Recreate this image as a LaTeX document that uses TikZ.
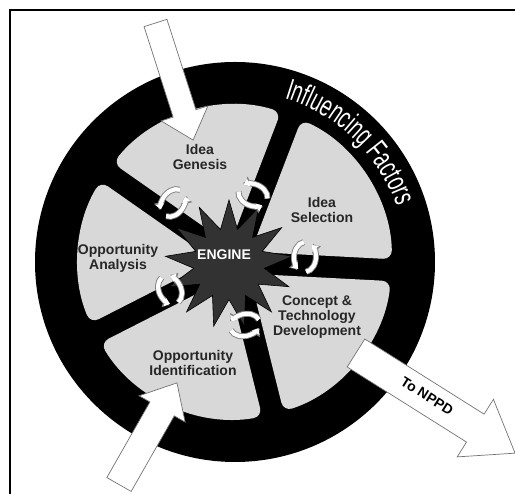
\documentclass[tikz,border=0pt]{standalone}
\usepackage{fontspec}
\setmainfont{Liberation Sans}
\newfontfamily\narrowfont[FakeStretch=0.64]{Liberation Sans}
\usetikzlibrary{arrows.meta,positioning,calc,shapes.geometric,decorations.text}
\definecolor{Wedge}{RGB}{216,216,216}
\definecolor{Ink}{RGB}{38,38,38}
\definecolor{Core}{RGB}{50,50,50}
\tikzset{
  stage/.style={font=\fontsize{14}{15}\selectfont\bfseries,text=Ink,align=center,inner sep=1pt},
  wedge/.style={fill=Wedge,rounded corners=9pt},
  fat/.style={fill=white,draw=black!55,line width=0.7pt,line join=miter},
  cycout/.style={line width=6pt,draw=black!50,-{Triangle[length=7pt,width=11pt]}},
  cycin/.style={line width=4.2pt,draw=white,-{Triangle[length=5.4pt,width=8.4pt]}},
}

\begin{document}
\begin{tikzpicture}[x=1pt,y=1pt]
  \useasboundingbox (0,0) rectangle (515,494);
  % frame, only top and left edges are in view
  \draw[line width=1.4pt] (10,0) -- (10,484) -- (515,484);

  % --- the wheel ---
  \coordinate (C) at (235,232);
  \fill[black] (C) circle[radius=200];
  \foreach \a/\b in {69/145,-3/69,-76/-3,-153/-76,145/207}{
    \pgfmathsetmacro{\wmid}{(\a+\b)/2}
    \pgfmathsetmacro{\wdist}{11/sin((\b-\a)/2)}
    \fill[wedge] ($(C)+(\wmid:\wdist)$) -- ($(C)+(\a+4:157)$)
      arc[start angle=\a+4,end angle=\b-4,radius=157] -- cycle;
  }

  % --- engine ---
  \node[star,star points=13,star point ratio=1.8,minimum size=128pt,inner sep=0pt,
        fill=Core,draw=black,line width=0.6pt] (engine) at (229,230) {};
  \node[font=\fontsize{14}{14}\selectfont\bfseries,text=white] (enginetext) at (224,239) {ENGINE};

  % small turning arrows on the spokes
  \foreach \x/\y/\r in {173/291/145,253/299/69,305/237/-3,245/169/-76,170/204/207}{
    \begin{scope}[shift={(\x,\y)},rotate=\r]
      \draw[cycout] (100:11 and 15) arc[start angle=100,end angle=235,x radius=11,y radius=15];
      \draw[cycin] (100:11 and 15) arc[start angle=100,end angle=235,x radius=11,y radius=15];
      \draw[cycout] (-80:11 and 15) arc[start angle=-80,end angle=55,x radius=11,y radius=15];
      \draw[cycin] (-80:11 and 15) arc[start angle=-80,end angle=55,x radius=11,y radius=15];
    \end{scope}
  }

  % --- stages ---
  \node[stage] (genesis) at (200,337) {Idea\\Genesis};
  \node[stage] (selection) at (322,284) {Idea\\Selection};
  \node[stage] (analysis) at (118,236) {Opportunity\\Analysis};
  \node[stage] (concept) at (317,177) {Concept \&\\Technology\\Development};
  \node[stage] (identify) at (193,131) {Opportunity\\Identification};

  % ring text
  \path[decorate,decoration={text along path,text color=white,text align=center,
        text={|\narrowfont\fontsize{30}{30}\selectfont|Influencing Factors}}]
    ($(C)+(92:171)$) arc[start angle=92,end angle=0,radius=171];

  % --- big arrows in and out ---
  \begin{scope}[shift={(155.5,471)},rotate=-72.2]
    \draw[fat] (0,-12) -- (95,-12) -- (95,-24.5) -- (123,0) -- (95,24.5) -- (95,12) -- (0,12) -- cycle;
  \end{scope}
  \begin{scope}[shift={(119,9.5)},rotate=60.3]
    \draw[fat] (0,-14) -- (87,-14) -- (87,-26.5) -- (117,0) -- (87,26.5) -- (87,14) -- (0,14) -- cycle;
  \end{scope}
  \begin{scope}[shift={(356,141)},rotate=-32.2]
    \draw[fat] (0,-16.5) -- (141,-16.5) -- (141,-34) -- (188,0) -- (141,34) -- (141,16.5) -- (0,16.5) -- cycle;
  \end{scope}
  \node[font=\fontsize{14}{14}\selectfont\bfseries,rotate=-32.2] (nppd) at (427,98) {To NPPD};
\end{tikzpicture}
\end{document}
